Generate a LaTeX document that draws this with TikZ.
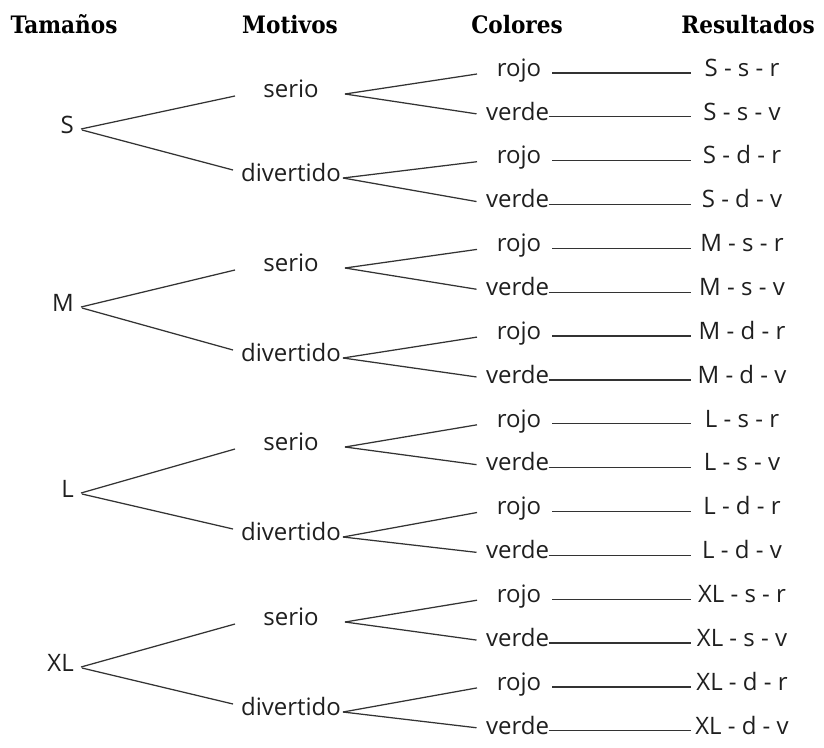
\documentclass[tikz,border=0pt]{standalone}
\usepackage{fontspec}
\setmainfont{Open Sans}
\newfontfamily\hfont{DejaVu Serif Condensed}
\usetikzlibrary{calc}
\begin{document}
\begin{tikzpicture}[x=1pt,y=-1pt,
  txt/.style={inner sep=0pt, text height=0.85em, text depth=0.2em,
              font=\fontsize{24}{28}\selectfont, text=black!88},
  hdr/.style={inner sep=0pt, anchor=base, text=black,
              font=\hfont\bfseries\fontsize{24}{28}\selectfont},
  ln/.style={draw=black!80, line width=1.25pt}]
\useasboundingbox[fill=white] (0,0) rectangle (824,747);
\node[hdr] (h1) at (64,33) {Tamaños};
\node[hdr] (h2) at (290,33) {Motivos};
\node[hdr] (h3) at (517,33) {Colores};
\node[hdr] (h4) at (748,33) {Resultados};
\foreach \sz/\sy/\ay/\by [count=\bI from 0] in {S/130/94/178, M/308/268/358, L/494/447/537, XL/668/622/712} {
  \node[txt, anchor=east] (t\bI) at (74,\sy) {\sz};
  \node[txt] (m\bI s) at (291,\ay) {serio};
  \node[txt] (m\bI d) at (291,\by) {divertido};
  \draw[ln] ($(t\bI.east)+(7,-1)$) -- ($(m\bI s)+(-56,2)$);
  \draw[ln] ($(t\bI.east)+(8,0)$) -- ($(m\bI d)+(-58,-8)$);
  \foreach \mm/\mo [count=\jI from 0] in {s/54, d/52} {
    \foreach \cc/\cn/\cx/\ci/\cdy/\co [count=\kI from 0] in {r/rojo/519/-42/1/33, v/verde/517.5/-41/-3/31} {
      \pgfmathsetmacro\ry{73+43.85*(4*\bI+2*\jI+\kI)}
      \node[txt] (c\bI\mm\cc) at (\cx,\ry) {\cn};
      \node[txt] (r\bI\mm\cc) at (742,\ry) {\sz{} - \mm{} - \cc};
      \draw[ln] ($(m\bI\mm)+(\mo,0)$) -- ($(c\bI\mm\cc)+(\ci,\cdy)$);
      \draw[ln] ($(c\bI\mm\cc)+(\co,0)$) -- ($(r\bI\mm\cc)+(-51,0)$);
    }
  }
}
\end{tikzpicture}
\end{document}
